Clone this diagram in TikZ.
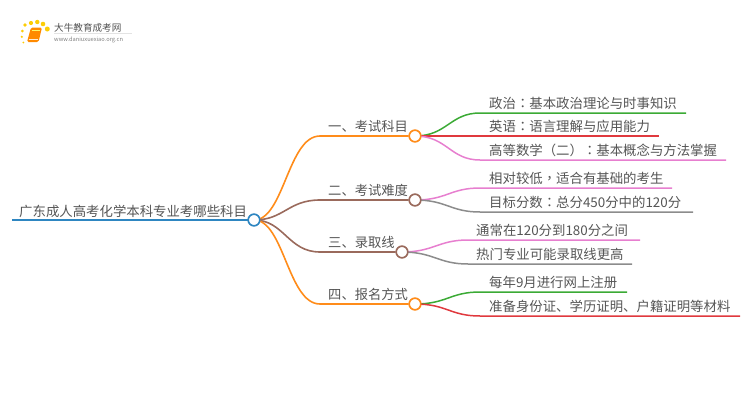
\documentclass[tikz,border=0pt]{standalone}
\usepackage{fontspec}
\setmainfont{Noto Sans CJK SC}
\newfontfamily\tcpunct{Noto Sans CJK TC}
\newcommand{\pu}[1]{{\tcpunct #1}}
\definecolor{cblue}{HTML}{2E86C1}
\definecolor{corange}{HTML}{FF8C1A}
\definecolor{cbrown}{HTML}{9A6A5C}
\definecolor{cgreen}{HTML}{3BAA35}
\definecolor{cred}{HTML}{E0393E}
\definecolor{cpink}{HTML}{E77FCF}
\definecolor{cgray}{HTML}{8C8C8C}
\definecolor{ctext}{HTML}{555555}
\tikzset{
  hub/.style={circle,draw=#1,fill=white,line width=1.5pt,minimum size=11.5pt,inner sep=0pt},
  branchline/.style={draw=#1,line width=1.6pt},
  leafline/.style={draw=#1,line width=1.5pt},
  rootlabel/.style={anchor=base west,inner sep=0pt,text=ctext,font=\fontsize{13.4}{16}\selectfont},
  branchlabel/.style={anchor=base west,inner sep=0pt,text=ctext,font=\fontsize{13.3}{16}\selectfont},
  leaflabel/.style={anchor=base west,inner sep=0pt,text=ctext,font=\fontsize{13.4}{16}\selectfont},
  logodot/.style={fill=yellow!65!orange},
}
\begin{document}
\begin{tikzpicture}[x=1pt,y=-1pt]
\useasboundingbox (0,0) rectangle (750,410);
% logo
\fill[gray!22] (54,33.3) rectangle (132,33.9);
\fill[logodot] (25,25) circle (1.9);
\fill[logodot] (31,23) circle (2.1);
\fill[logodot] (37.3,22) circle (2.2);
\fill[logodot] (43,24) circle (2.3);
\fill[logodot] (47.3,29) circle (2.5);
\fill[logodot] (22.3,31) circle (1.5);
\fill[logodot] (21.8,36.8) circle (1.2);
\fill[logodot] (23.3,42.5) circle (1);
\fill[orange!92!yellow,rounded corners=1.5pt] (31,27.5) -- (42,27.5) -- (38.5,42) -- (27,42) -- cycle;
\draw[yellow!60!white,line width=.6pt] (31.5,30.5) -- (39.5,30.5);
\draw[white!85!orange,line width=.5pt] (28.5,39.6) -- (38,39.6);
\node[anchor=base west,inner sep=0pt,text=black!68,font=\fontsize{9.6}{11}\selectfont] (logot) at (54,31) {大牛教育成考网};
\node[anchor=base west,inner sep=0pt,text=black!50,font=\fontsize{5.7}{7}\selectfont] (logou) at (54,41) {www.daniuxuexiao.org.cn};
% hubs
\coordinate (rs) at (12,220);
\node[hub=cblue] (root) at (254,220) {};
\node[hub=corange] (b1) at (415,136) {};
\node[hub=cbrown] (b2) at (415,200) {};
\node[hub=cbrown] (b3) at (402,252) {};
\node[hub=corange] (b4) at (415,304) {};
\coordinate (b1s) at (320,136);
\coordinate (b2s) at (320,200);
\coordinate (b3s) at (320,252);
\coordinate (b4s) at (320,304);
\foreach \n/\x/\y in {l1a/480/113,l1a2/686/113,l1b/480/136,l1b2/659/136,l1c/480/160,l1c2/726/160,
  l2a/480/188,l2b/480/212,l2a2/672/188,l2b2/693/212,l3a/468/240,l3a2/640/240,l3b/468/264,l3b2/632/264,
  l4a/480/292,l4a2/627/292,l4b/480/316,l4b2/740/316}
  \coordinate (\n) at (\x,\y);
% root connectors
\draw[branchline=corange] (root.center) .. controls +(30,0) and +(-32,0) .. (b1s) -- (b1);
\draw[branchline=cbrown] (root.center) .. controls +(30,0) and +(-32,0) .. (b2s) -- (b2);
\draw[branchline=cbrown] (root.center) .. controls +(30,0) and +(-32,0) .. (b3s) -- (b3);
\draw[branchline=corange] (root.center) .. controls +(30,0) and +(-32,0) .. (b4s) -- (b4);
\draw[line width=2pt,draw=cblue] (rs) -- (root);
% leaf connectors
\draw[leafline=cgreen] (b1.center) .. controls +(32,0) and +(-30,0) .. (l1a) -- (l1a2);
\draw[leafline=cred] (b1.center) .. controls +(32,0) and +(-30,0) .. (l1b) -- (l1b2);
\draw[leafline=cpink] (b1.center) .. controls +(32,0) and +(-30,0) .. (l1c) -- (l1c2);
\draw[leafline=cpink] (b2.center) .. controls +(32,0) and +(-30,0) .. (l2a) -- (l2a2);
\draw[leafline=cgray] (b2.center) .. controls +(32,0) and +(-30,0) .. (l2b) -- (l2b2);
\draw[leafline=cpink] (b3.center) .. controls +(32,0) and +(-30,0) .. (l3a) -- (l3a2);
\draw[leafline=cgray] (b3.center) .. controls +(32,0) and +(-30,0) .. (l3b) -- (l3b2);
\draw[leafline=cgreen] (b4.center) .. controls +(32,0) and +(-30,0) .. (l4a) -- (l4a2);
\draw[leafline=cred] (b4.center) .. controls +(32,0) and +(-30,0) .. (l4b) -- (l4b2);
% hubs on top of their connectors
\node[hub=cblue] at (root) {};
\node[hub=corange] at (b1) {};
\node[hub=cbrown] at (b2) {};
\node[hub=cbrown] at (b3) {};
\node[hub=corange] at (b4) {};
% labels
\node[rootlabel] (t0) at (19,216) {广东成人高考化学本科专业考哪些科目};
\node[branchlabel] (t1) at (328,131.5) {一、考试科目};
\node[branchlabel] (t2) at (328,195.5) {二、考试难度};
\node[branchlabel] (t3) at (328,247.5) {三、录取线};
\node[branchlabel] (t4) at (328,299.5) {四、报名方式};
\node[leaflabel] (a1) at (489,108) {政治\pu{：}基本政治理论与时事知识};
\node[leaflabel] (a2) at (489,131.5) {英语\pu{：}语言理解与应用能力};
\node[leaflabel] (a3) at (489,155.5) {高等数学\pu{（}二\pu{）：}基本概念与方法掌握};
\node[leaflabel] (a4) at (489,183.5) {相对较低\pu{，}适合有基础的考生};
\node[leaflabel] (a5) at (489,207.5) {目标分数\pu{：}总分450分中的120分};
\node[leaflabel] (a6) at (476,235.5) {通常在120分到180分之间};
\node[leaflabel] (a7) at (476,259.5) {热门专业可能录取线更高};
\node[leaflabel] (a8) at (489,287.5) {每年9月进行网上注册};
\node[leaflabel] (a9) at (489,311.5) {准备身份证、学历证明、户籍证明等材料};
\end{tikzpicture}
\end{document}
